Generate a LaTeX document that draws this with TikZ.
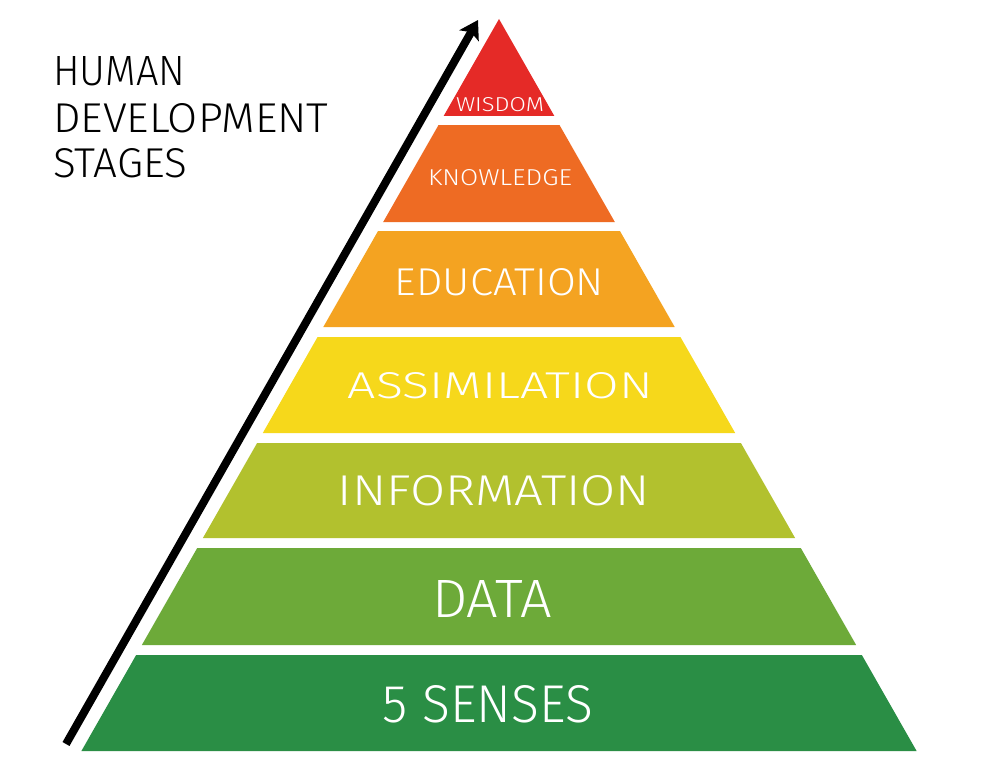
\documentclass[tikz,border=0pt]{standalone}
\usepackage{fontspec}
\usepackage{graphicx}
\usetikzlibrary{arrows.meta}
\newfontfamily\hand{Fira Sans Light}
\definecolor{cwis}{HTML}{E52A27}
\definecolor{ckno}{HTML}{EE6B23}
\definecolor{cedu}{HTML}{F4A321}
\definecolor{cass}{HTML}{F6D81B}
\definecolor{cinf}{HTML}{B2C12E}
\definecolor{cdat}{HTML}{6DAA39}
\definecolor{csen}{HTML}{2A8E45}
\tikzset{
  lbl/.style={anchor=base, inner sep=0pt, text=white, font=\hand},
  ttl/.style={anchor=base west, inner sep=0pt, text=black, font=\hand},
  stagearrow/.style={line width=8pt, -{Stealth[length=18pt,width=22pt,inset=4pt]}}
}
\newcommand{\layer}[3]{%
  \fill[#3] ({499-0.5705*(#1-19)},#1) -- ({499+0.5705*(#1-19)},#1) --
    ({499+0.5705*(#2-19)},#2) -- ({499-0.5705*(#2-19)},#2) -- cycle;}
\begin{document}
\begin{tikzpicture}[x=1pt,y=-1pt]
\useasboundingbox[fill=white] (0,0) rectangle (1000,781);
\fill[cwis] (499,19) -- ({499+0.5705*97},116) -- ({499-0.5705*97},116) -- cycle;
\layer{125}{222}{ckno}
\layer{231}{327}{cedu}
\layer{337}{433}{cass}
\layer{443}{538}{cinf}
\layer{548}{645}{cdat}
\layer{655}{751}{csen}
\coordinate (arrowstart) at (66,744);
\coordinate (arrowend) at (478,20);
\draw[stagearrow] (arrowstart) -- (arrowend);
\node[lbl] (wisdom) at (500,111) {\resizebox{88pt}{14pt}{WISDOM}};
\node[lbl] (knowledge) at (500,185) {\resizebox{144pt}{16pt}{KNOWLEDGE}};
\node[lbl] (education) at (499.5,295) {\resizebox{209pt}{27pt}{EDUCATION}};
\node[lbl] (assimilation) at (500.5,398) {\resizebox{305pt}{26pt}{ASSIMILATION}};
\node[lbl] (information) at (494,505) {\resizebox{312pt}{30pt}{INFORMATION}};
\node[lbl] (data) at (492,617) {\resizebox{120pt}{37pt}{DATA}};
\node[lbl] (senses) at (488,722) {\resizebox{210pt}{37pt}{5 SENSES}};
\node[ttl] (human) at (53,86) {\resizebox{132pt}{29pt}{HUMAN}};
\node[ttl] (development) at (53,132) {\resizebox{275pt}{29pt}{DEVELOPMENT}};
\node[ttl] (stages) at (53,177) {\resizebox{134pt}{29pt}{STAGES}};
\end{tikzpicture}
\end{document}
